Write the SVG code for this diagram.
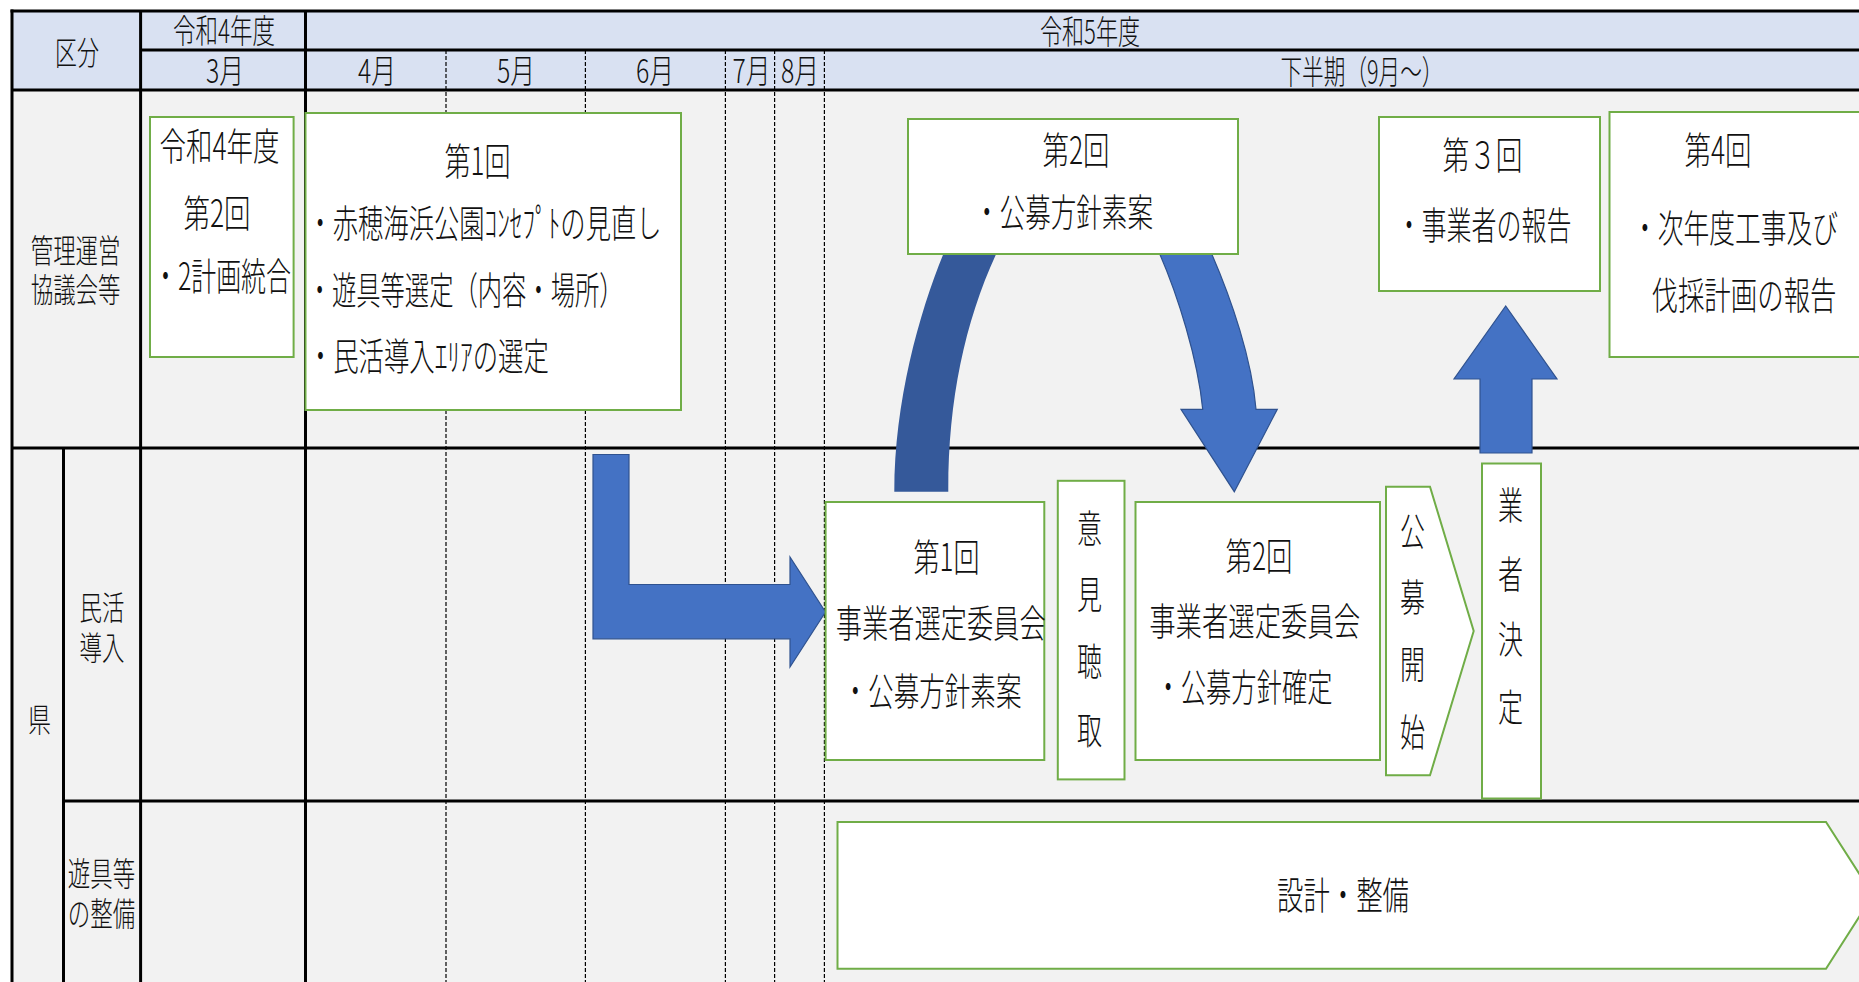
<svg xmlns="http://www.w3.org/2000/svg" width="1859" height="982" viewBox="0 0 1859 982">
<defs>
<style>
.t{font-family:"Noto Sans CJK JP","Noto Sans CJK SC",sans-serif;font-weight:300;fill:#111;dominant-baseline:central;text-anchor:middle}
.h{font-size:33px}
.b{font-size:38px}
.box{fill:#fff;stroke:#70AD47;stroke-width:2}
.grid{stroke:#000;stroke-width:3;fill:none}
.dash{stroke:#000;stroke-width:1.2;stroke-dasharray:4 2;fill:none}
.arrow{fill:#4472C4;stroke:#2F528F;stroke-width:1.2}
.dark{fill:#35599A}
</style>
</defs>
<rect x="0" y="0" width="1859" height="982" fill="#fff"/>
<g id="table">
<rect x="12" y="11" width="1860" height="79" fill="#D9E1F2"/>
<rect x="12" y="90" width="1860" height="900" fill="#F2F2F2"/>
<g class="dash">
<line x1="446" y1="50" x2="446" y2="982"/>
<line x1="585.4" y1="50" x2="585.4" y2="982"/>
<line x1="725.4" y1="50" x2="725.4" y2="982"/>
<line x1="774.6" y1="50" x2="774.6" y2="982"/>
<line x1="824.4" y1="50" x2="824.4" y2="982"/>
</g>
<g class="grid">
<line x1="10.5" y1="11" x2="1859" y2="11"/>
<line x1="140.6" y1="50" x2="1859" y2="50"/>
<line x1="12" y1="90" x2="1859" y2="90"/>
<line x1="12" y1="448" x2="1859" y2="448"/>
<line x1="63.5" y1="801" x2="1859" y2="801"/>
<line x1="12" y1="9.5" x2="12" y2="982"/>
<line x1="140.6" y1="11" x2="140.6" y2="982"/>
<line x1="305.5" y1="11" x2="305.5" y2="982"/>
<line x1="63.5" y1="448" x2="63.5" y2="982"/>
</g>
<g class="t h" transform="translate(0,-2) scale(0.68,1)">
<text x="113.24" y="52.5" textLength="64.71" lengthAdjust="spacingAndGlyphs">区分</text>
<text x="329.41" y="30" textLength="150" lengthAdjust="spacingAndGlyphs">令和4年度</text>
<text x="330.88" y="70" textLength="55.88" lengthAdjust="spacingAndGlyphs">3月</text>
<text x="554.41" y="70" textLength="55.88" lengthAdjust="spacingAndGlyphs">4月</text>
<text x="758.82" y="70" textLength="55.88" lengthAdjust="spacingAndGlyphs">5月</text>
<text x="963.24" y="70" textLength="55.88" lengthAdjust="spacingAndGlyphs">6月</text>
<text x="1105.15" y="70" textLength="55.88" lengthAdjust="spacingAndGlyphs">7月</text>
<text x="1176.47" y="70" textLength="55.88" lengthAdjust="spacingAndGlyphs">8月</text>
<text x="1602.94" y="31" textLength="147.06" lengthAdjust="spacingAndGlyphs">令和5年度</text>
<text x="2002.94" y="71" textLength="239.71" lengthAdjust="spacingAndGlyphs">下半期（9月～）</text>
<text><tspan x="111.18" y="250">管理運営</tspan><tspan x="111.18" y="289">協議会等</tspan></text>
<text x="58.09" y="719" textLength="33.82" lengthAdjust="spacingAndGlyphs">県</text>
<text><tspan x="150" y="607">民活</tspan><tspan x="150" y="647">導入</tspan></text>
<text><tspan x="149.26" y="873">遊具等</tspan><tspan x="149.26" y="913">の整備</tspan></text>
</g>
</g>
<g id="connectors">
<path class="arrow" d="M593,454.5 H629 V584.5 H790 V557 L825.5,612 L790,667 V638.8 H593 Z"/>
<path class="dark" d="M894.3,491.7 C894.3,400 920,310 945,250 L998,250 C965,320 948,400 948.3,491.7 Z"/>
<path class="arrow" d="M1158,250 C1178,295 1198,360 1202.7,409.3 L1181,409.3 L1234.3,491.7 L1277.3,409.3 L1256,409.3 C1252,360 1232,300 1210,250 Z"/>
<path class="arrow" d="M1480,453 V379 H1454 L1505.7,306 L1557,379 H1532 V453 Z"/>
</g>
<g id="n1">
<rect class="box" x="150" y="117" width="143.6" height="240"/>
<g class="t b" transform="translate(0,-3) scale(0.68,1)">
<text x="322.79" y="146.5" textLength="176.47" lengthAdjust="spacingAndGlyphs">令和4年度</text>
<text x="319.12" y="213.5" textLength="98.53" lengthAdjust="spacingAndGlyphs">第2回</text>
<text x="326.47" y="276.5" textLength="202.94" lengthAdjust="spacingAndGlyphs">・2計画統合</text>
</g>
</g>
<g id="n2">
<rect class="box" x="305.5" y="113" width="375.5" height="297"/>
<g class="t b" transform="translate(0,-3) scale(0.68,1)">
<text x="702.21" y="161" textLength="97.06" lengthAdjust="spacingAndGlyphs">第1回</text>
<text x="712.5" y="223.5" textLength="520.59" lengthAdjust="spacingAndGlyphs">・赤穂海浜公園ｺﾝｾﾌﾟﾄの見直し</text>
<text x="684.71" y="290.5" textLength="464.71" lengthAdjust="spacingAndGlyphs">・遊具等選定（内容・場所）</text>
<text x="629.85" y="356" textLength="354.41" lengthAdjust="spacingAndGlyphs">・民活導入ｴﾘｱの選定</text>
</g>
</g>
<g id="n3">
<rect class="box" x="908" y="119" width="330" height="135"/>
<g class="t b" transform="translate(0,-3) scale(0.68,1)">
<text x="1582.35" y="150" textLength="98.53" lengthAdjust="spacingAndGlyphs">第2回</text>
<text x="1563.97" y="212.5" textLength="263.24" lengthAdjust="spacingAndGlyphs">・公募方針素案</text>
</g>
</g>
<g id="n4">
<rect class="box" x="1379" y="117" width="221" height="174"/>
<g class="t b" transform="translate(0,-3) scale(0.68,1)">
<text x="2180.15" y="155.5" textLength="117.65" lengthAdjust="spacingAndGlyphs">第３回</text>
<text x="2182.35" y="225.5" textLength="257.35" lengthAdjust="spacingAndGlyphs">・事業者の報告</text>
</g>
</g>
<g id="n5">
<rect class="box" x="1609.5" y="112" width="300" height="245"/>
<g class="t b" transform="translate(0,-3) scale(0.68,1)">
<text x="2526.47" y="150.5" textLength="98.53" lengthAdjust="spacingAndGlyphs">第4回</text>
<text x="2551.47" y="228.5" textLength="302.94" lengthAdjust="spacingAndGlyphs">・次年度工事及び</text>
<text x="2564.71" y="295" textLength="272.06" lengthAdjust="spacingAndGlyphs">伐採計画の報告</text>
</g>
</g>
<g id="n6">
<rect class="box" x="825.6" y="502" width="218.7" height="258"/>
<g class="t b" transform="translate(0,-3) scale(0.68,1)">
<text x="1391.91" y="557.5" textLength="97.06" lengthAdjust="spacingAndGlyphs">第1回</text>
<text x="1383.38" y="623" textLength="308.82" lengthAdjust="spacingAndGlyphs">事業者選定委員会</text>
<text x="1370.59" y="691.5" textLength="263.24" lengthAdjust="spacingAndGlyphs">・公募方針素案</text>
</g>
</g>
<g id="n7">
<rect class="box" x="1057.8" y="480.8" width="66.7" height="298.6"/>
<g class="t b" transform="translate(0,-3) scale(0.68,1)">
<text x="1602.35" y="528" textLength="36.76" lengthAdjust="spacingAndGlyphs">意</text>
<text x="1602.35" y="594.5" textLength="36.76" lengthAdjust="spacingAndGlyphs">見</text>
<text x="1602.35" y="661" textLength="36.76" lengthAdjust="spacingAndGlyphs">聴</text>
<text x="1602.35" y="730" textLength="36.76" lengthAdjust="spacingAndGlyphs">取</text>
</g>
</g>
<g id="n8">
<rect class="box" x="1135.5" y="502" width="244.5" height="258"/>
<g class="t b" transform="translate(0,-3) scale(0.68,1)">
<text x="1851.47" y="556" textLength="98.53" lengthAdjust="spacingAndGlyphs">第2回</text>
<text x="1845.15" y="621.5" textLength="310.29" lengthAdjust="spacingAndGlyphs">事業者選定委員会</text>
<text x="1829.41" y="687" textLength="260.29" lengthAdjust="spacingAndGlyphs">・公募方針確定</text>
</g>
</g>
<g id="n9">
<polygon class="box" points="1386,486.7 1430,486.7 1473.7,631 1430,775.3 1386,775.3"/>
<g class="t b" transform="translate(0,-3) scale(0.68,1)">
<text x="2077.21" y="531.5" textLength="36.76" lengthAdjust="spacingAndGlyphs">公</text>
<text x="2077.21" y="597.3" textLength="36.76" lengthAdjust="spacingAndGlyphs">募</text>
<text x="2077.21" y="664.5" textLength="36.76" lengthAdjust="spacingAndGlyphs">開</text>
<text x="2077.21" y="732" textLength="36.76" lengthAdjust="spacingAndGlyphs">始</text>
</g>
</g>
<g id="n10">
<rect class="box" x="1482" y="463.5" width="59" height="335"/>
<g class="t b" transform="translate(0,-3) scale(0.68,1)">
<text x="2221.18" y="505.5" textLength="36.76" lengthAdjust="spacingAndGlyphs">業</text>
<text x="2221.18" y="574" textLength="36.76" lengthAdjust="spacingAndGlyphs">者</text>
<text x="2221.18" y="639" textLength="36.76" lengthAdjust="spacingAndGlyphs">決</text>
<text x="2221.18" y="707" textLength="36.76" lengthAdjust="spacingAndGlyphs">定</text>
</g>
</g>
<g id="n11">
<polygon class="box" points="837.5,822 1826,822 1873,895.3 1826,968.7 837.5,968.7"/>
<g class="t b" transform="translate(0,-3) scale(0.68,1)">
<text x="1975" y="895" textLength="194.12" lengthAdjust="spacingAndGlyphs">設計・整備</text>
</g>
</g>
</svg>
